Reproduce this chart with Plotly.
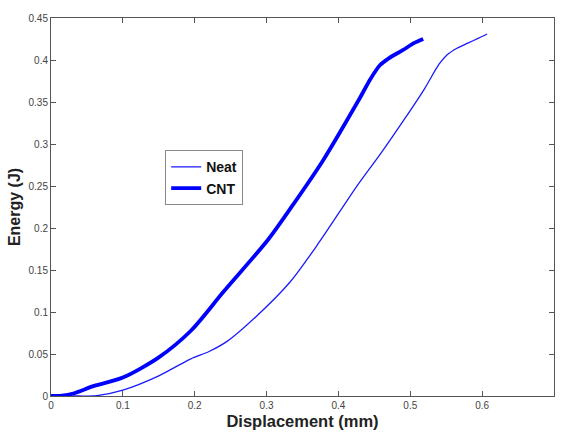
import plotly.graph_objects as go

# Data
neat_x = [0, 0.03, 0.064, 0.1, 0.15, 0.194, 0.22, 0.245, 0.286, 0.333, 0.374, 0.425, 0.46, 0.493, 0.52, 0.54, 0.551, 0.565, 0.58, 0.595, 0.607]
neat_y = [0, 0.0, 0.0005, 0.007, 0.024, 0.044, 0.053, 0.065, 0.095, 0.136, 0.184, 0.249, 0.29, 0.331, 0.366, 0.395, 0.406, 0.414, 0.420, 0.426, 0.431]

cnt_x = [0, 0.015, 0.031, 0.06, 0.1, 0.15, 0.195, 0.24, 0.302, 0.333, 0.379, 0.428, 0.445, 0.458, 0.47, 0.49, 0.505, 0.518]
cnt_y = [0, 0.0005, 0.003, 0.012, 0.022, 0.046, 0.078, 0.124, 0.186, 0.223, 0.281, 0.352, 0.378, 0.394, 0.402, 0.412, 0.420, 0.425]

x_ticks = [0, 0.1, 0.2, 0.3, 0.4, 0.5, 0.6, 0.7]
y_ticks = [0, 0.05, 0.1, 0.15, 0.2, 0.25, 0.3, 0.35, 0.4, 0.45]

fig = go.Figure()
fig.add_trace(go.Scatter(x=neat_x, y=neat_y, mode="lines", name="<b>Neat</b>",
                         line=dict(color="#1a1aff", width=1.3, shape="spline", smoothing=0.8)))
fig.add_trace(go.Scatter(x=cnt_x, y=cnt_y, mode="lines", name="<b>CNT</b>",
                         line=dict(color="#0000ff", width=3.8, shape="spline", smoothing=0.8)))

axis_common = dict(showline=True, linecolor="#555555", linewidth=1, mirror="ticks",
                   ticks="inside", ticklen=5, tickcolor="#555555", showgrid=False,
                   zeroline=False, tickfont=dict(family="Liberation Sans, Arial", size=10, color="#444444"))

fig.update_xaxes(range=[0, 0.7], tickvals=x_ticks, ticktext=[f"{v:g}" for v in x_ticks],
                 title=dict(text="<b>Displacement (mm)</b>", standoff=5,
                            font=dict(family="Liberation Sans, Arial", size=16.5, color="#222222")),
                 **axis_common)
fig.update_yaxes(range=[0, 0.45], tickvals=y_ticks, ticktext=[f"{v:g}" for v in y_ticks],
                 title=dict(text="<b>Energy (J)</b>", standoff=3,
                            font=dict(family="Liberation Sans, Arial", size=16, color="#222222")),
                 **axis_common)

fig.update_layout(
    width=561, height=434,
    margin=dict(l=51, r=7, t=18, b=38),
    paper_bgcolor="white", plot_bgcolor="white",
    legend=dict(x=0.227, y=0.65, xanchor="left", yanchor="top",
                bordercolor="#888888", borderwidth=1, bgcolor="white",
                font=dict(family="Liberation Sans, Arial", size=14, color="#111111"),
                itemwidth=30, tracegroupgap=0),
    showlegend=True,
)

fig.write_html("out.html", config={"displayModeBar": False},
               post_script="document.body.style.margin='0';document.body.style.overflow='hidden';")
